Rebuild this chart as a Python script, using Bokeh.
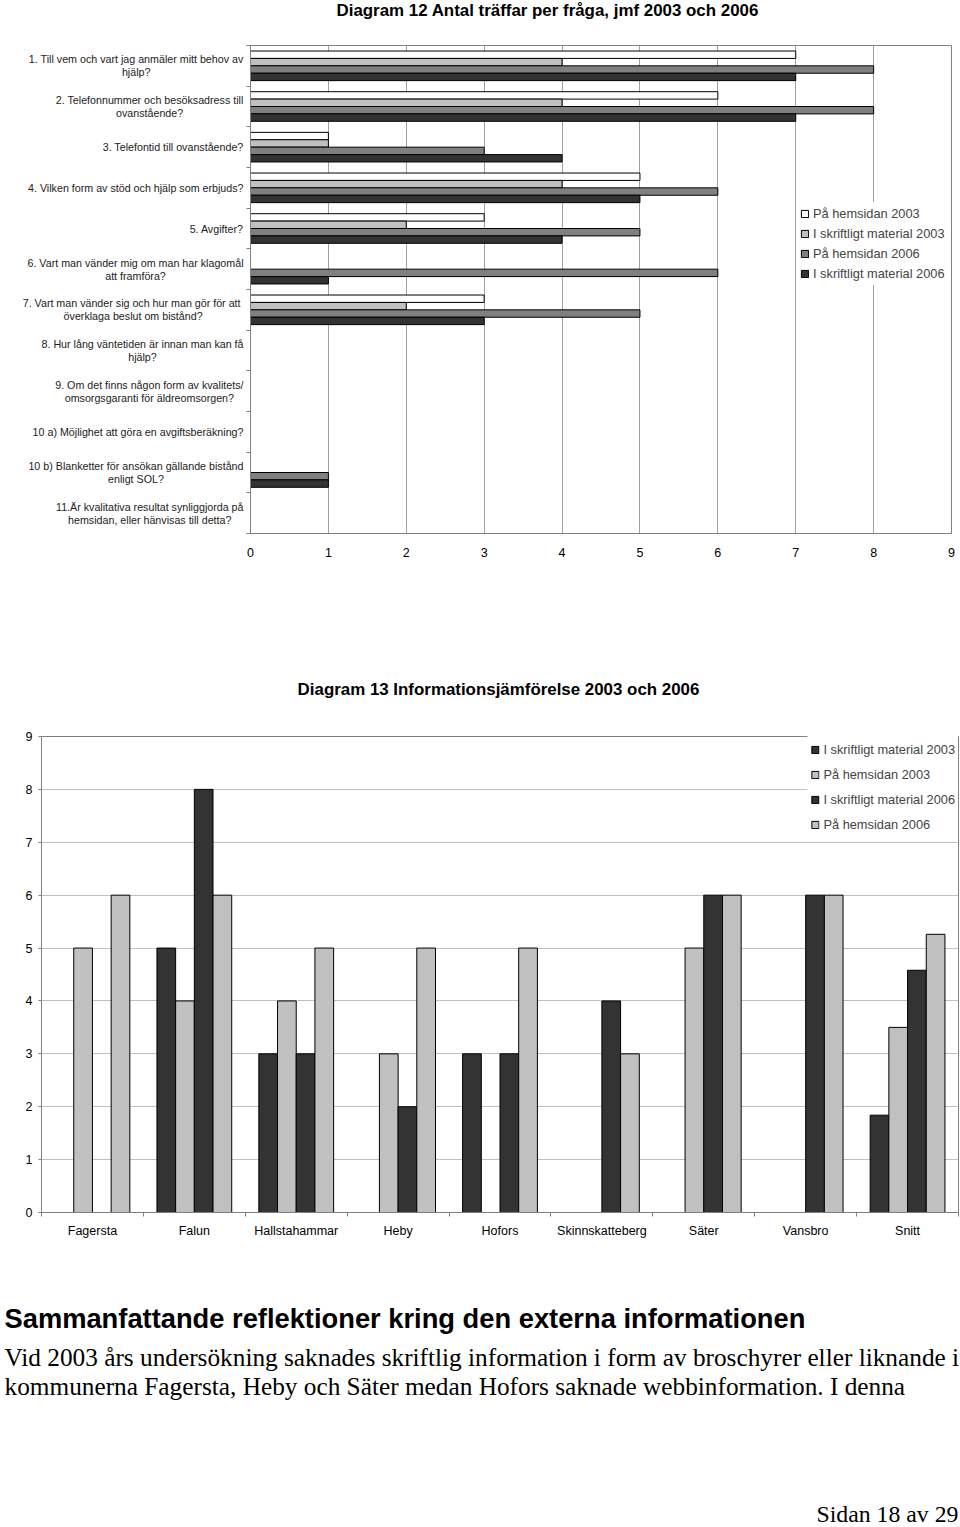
from bokeh.plotting import figure
from bokeh.models import ColumnDataSource, Range1d, FixedTicker, Legend, LegendItem
from bokeh.layouts import row
from bokeh.embed import file_html
from bokeh.resources import INLINE
from bokeh.core.properties import value

SANS = "Liberation Sans"
SERIF = "Liberation Serif"

# ---------------- Diagram 12 data ----------------
title12 = "Diagram 12 Antal träffar per fråga, jmf 2003 och 2006"
questions = [
    "1. Till vem och vart jag anmäler mitt behov av\nhjälp?",
    "2. Telefonnummer och besöksadress till\novanstående?",
    "3. Telefontid till ovanstående?",
    "4. Vilken form av stöd och hjälp som erbjuds?",
    "5. Avgifter?",
    "6. Vart man vänder mig om man har klagomål\natt framföra?",
    "7. Vart man vänder sig och hur man  gör för att\növerklaga beslut om bistånd?",
    "8. Hur lång väntetiden är innan man kan få\nhjälp?",
    "9. Om det finns någon form av kvalitets/\nomsorgsgaranti för äldreomsorgen?",
    "10 a) Möjlighet att göra en avgiftsberäkning?",
    "10 b) Blanketter för ansökan gällande bistånd\nenligt SOL?",
    "11.Är kvalitativa resultat synliggjorda på\nhemsidan, eller hänvisas till detta?",
]
series12 = ["På hemsidan 2003", "I skriftligt material 2003",
            "På hemsidan 2006", "I skriftligt material 2006"]
hem_2003 = [7, 6, 1, 5, 3, 0, 3, 0, 0, 0, 0, 0]
skr_2003 = [4, 4, 1, 4, 2, 0, 2, 0, 0, 0, 0, 0]
hem_2006 = [8, 8, 3, 6, 5, 6, 5, 0, 0, 0, 1, 0]
skr_2006 = [7, 7, 4, 5, 4, 1, 3, 0, 0, 0, 1, 0]
x_ticks12 = [0, 1, 2, 3, 4, 5, 6, 7, 8, 9]
colors12 = ["#ffffff", "#c0c0c0", "#808080", "#333333"]

# ---------------- Diagram 13 data ----------------
title13 = "Diagram 13 Informationsjämförelse 2003 och 2006"
municipalities = ["Fagersta", "Falun", "Hallstahammar", "Heby", "Hofors",
                  "Skinnskatteberg", "Säter", "Vansbro", "Snitt"]
series13 = ["I skriftligt material 2003", "På hemsidan 2003",
            "I skriftligt material 2006", "På hemsidan 2006"]
skr_03 = [0, 5, 3, 0, 3, 0, 0, 0, 1.84]
hem_03 = [5, 4, 4, 3, 0, 0, 5, 0, 3.5]
skr_06 = [0, 8, 3, 2, 3, 4, 6, 6, 4.58]
hem_06 = [6, 6, 5, 5, 5, 3, 6, 6, 5.26]
y_ticks13 = [0, 1, 2, 3, 4, 5, 6, 7, 8, 9]
colors13 = ["#333333", "#c0c0c0", "#333333", "#c0c0c0"]

# ---------------- Text ----------------
heading = "Sammanfattande reflektioner kring den externa informationen"
body_lines = [
    "Vid 2003 års undersökning saknades skriftlig information i form av broschyrer eller liknande i",
    "kommunerna Fagersta, Heby och Säter medan Hofors saknade webbinformation. I denna",
]
footer = "Sidan 18 av 29"

W = 960


def text_fig(width, height):
    f = figure(width=width, height=height, x_range=Range1d(0, width), y_range=Range1d(height, 0),
               output_backend="svg", toolbar_location=None,
               x_axis_type=None, y_axis_type=None,
               min_border_left=0, min_border_right=0, min_border_top=0, min_border_bottom=0)
    f.grid.visible = False
    f.outline_line_color = None
    return f


# ================= Title 12 =================
t1 = text_fig(W, 40)
t1.text(x=[336], y=[10], text=[title12], text_font=value(SANS), text_font_size="16.9px",
        text_font_style="bold", text_baseline="middle", text_align="left", text_color="#000000")

# ================= Figure 1 =================
n1 = len(questions)
LW = 245
H1 = 635
p1 = figure(width=W - LW, height=H1, x_range=Range1d(0, 9), y_range=Range1d(n1, 0),
            output_backend="svg", toolbar_location=None,
            min_border_left=5, min_border_right=9, min_border_top=5, min_border_bottom=142)

h1 = 0.182
vals12 = [hem_2003, skr_2003, hem_2006, skr_2006]
items1 = []
for k, (name, vals, col) in enumerate(zip(series12, vals12, colors12)):
    ys = [i + 0.5 + (k - 1.5) * h1 for i, v in enumerate(vals) if v > 0]
    vs = [v for v in vals if v > 0]
    src = ColumnDataSource(dict(y=ys, v=vs))
    r = p1.hbar(y="y", right="v", left=0, height=h1, source=src,
                fill_color=col, line_color="#000000", line_width=1)
    items1.append(LegendItem(label=name, renderers=[r]))

leg1 = Legend(items=items1, location=(546, 248))
leg1.label_text_font = SANS
leg1.label_text_font_size = "12.8px"
leg1.glyph_width = 9
leg1.glyph_height = 9
leg1.label_standoff = 4
leg1.label_height = 14
leg1.spacing = 5
leg1.padding = 4
leg1.margin = 0
leg1.border_line_alpha = 0
leg1.background_fill_color = "#ffffff"
leg1.background_fill_alpha = 1
p1.add_layout(leg1)

p1.xaxis.ticker = FixedTicker(ticks=x_ticks12)
p1.xaxis.major_label_text_font = SANS
p1.xaxis.major_label_text_font_size = "12.5px"
p1.xaxis.major_label_text_color = "#000000"
p1.xaxis.major_tick_out = 0
p1.xaxis.major_tick_in = 0
p1.xaxis.minor_tick_out = 0
p1.xaxis.axis_line_color = "#808080"
p1.xaxis.major_label_standoff = 14

centers1 = [i + 0.5 for i in range(n1)]
p1.yaxis.ticker = FixedTicker(ticks=centers1, minor_ticks=list(range(n1 + 1)))
p1.yaxis.major_label_overrides = {c: "" for c in centers1}
p1.yaxis.major_tick_out = 0
p1.yaxis.major_tick_in = 0
p1.yaxis.minor_tick_out = 4
p1.yaxis.minor_tick_in = 0
p1.yaxis.minor_tick_line_color = "#808080"
p1.yaxis.axis_line_color = "#808080"
p1.yaxis.major_label_standoff = 0

p1.xgrid.ticker = FixedTicker(ticks=x_ticks12)
p1.xgrid.grid_line_color = "#a0a0a0"
p1.ygrid.grid_line_color = None
p1.outline_line_color = "#808080"

# category labels in a companion panel sharing the same y scale
pl = figure(width=LW, height=H1, x_range=Range1d(0, LW), y_range=p1.y_range,
            output_backend="svg", toolbar_location=None,
            x_axis_type=None, y_axis_type=None,
            min_border_left=0, min_border_right=0, min_border_top=5, min_border_bottom=142)
pl.grid.visible = False
pl.outline_line_color = None
lab_src = ColumnDataSource(dict(x=[LW - 2] * n1, y=centers1, t=questions))
try:
    pl.text(x="x", y="y", text="t", source=lab_src, text_font=value(SANS),
            text_font_size="10.7px", text_color="#222222", text_align="center",
            text_baseline="middle", text_line_height=1.1, anchor="center_right")
except AttributeError:
    pl.renderers = []
    pl.text(x="x", y="y", text="t", source=lab_src, text_font=value(SANS),
            text_font_size="10.7px", text_color="#222222", text_align="right",
            text_baseline="middle", text_line_height=1.1)

# ================= Title 13 =================
t2 = text_fig(W, 45)
t2.text(x=[498], y=[14], text=[title13], text_font=value(SANS), text_font_size="16.9px",
        text_font_style="bold", text_baseline="middle", text_align="center", text_color="#000000")

# ================= Figure 2 =================
n2 = len(municipalities)
p2 = figure(width=W, height=545, x_range=Range1d(0, n2), y_range=Range1d(0, 9),
            output_backend="svg", toolbar_location=None,
            min_border_left=41, min_border_right=2, min_border_top=16, min_border_bottom=53)

w2 = 0.1835
vals13 = [skr_03, hem_03, skr_06, hem_06]
items2 = []
for k, (name, vals, col) in enumerate(zip(series13, vals13, colors13)):
    xs = [i + 0.5 + (k - 1.5) * w2 for i, v in enumerate(vals) if v > 0]
    vs = [v for v in vals if v > 0]
    src = ColumnDataSource(dict(x=xs, v=vs))
    r = p2.vbar(x="x", top="v", bottom=0, width=w2, source=src,
                fill_color=col, line_color="#000000", line_width=1)
    items2.append(LegendItem(label=name, renderers=[r]))

leg2 = Legend(items=items2, location="top_right")
leg2.label_text_font = SANS
leg2.label_text_font_size = "12.8px"
leg2.glyph_width = 9
leg2.glyph_height = 9
leg2.label_standoff = 4
leg2.label_height = 20
leg2.spacing = 5
leg2.padding = 3
leg2.margin = 0
leg2.border_line_alpha = 0
leg2.background_fill_color = "#ffffff"
leg2.background_fill_alpha = 1
p2.add_layout(leg2)

centers2 = [i + 0.5 for i in range(n2)]
p2.xaxis.ticker = FixedTicker(ticks=centers2, minor_ticks=list(range(n2 + 1)))
p2.xaxis.major_label_overrides = {c: m for c, m in zip(centers2, municipalities)}
p2.xaxis.major_label_text_font = SANS
p2.xaxis.major_label_text_font_size = "12.5px"
p2.xaxis.major_label_text_color = "#000000"
p2.xaxis.major_tick_out = 0
p2.xaxis.major_tick_in = 0
p2.xaxis.minor_tick_out = 4
p2.xaxis.minor_tick_in = 0
p2.xaxis.minor_tick_line_color = "#808080"
p2.xaxis.axis_line_color = "#808080"
p2.xaxis.major_label_standoff = 7

p2.yaxis.ticker = FixedTicker(ticks=y_ticks13)
p2.yaxis.major_label_text_font = SANS
p2.yaxis.major_label_text_font_size = "12.5px"
p2.yaxis.major_label_text_color = "#000000"
p2.yaxis.major_tick_out = 3
p2.yaxis.major_tick_in = 0
p2.yaxis.minor_tick_out = 0
p2.yaxis.major_tick_line_color = "#808080"
p2.yaxis.axis_line_color = "#808080"
p2.yaxis.major_label_standoff = 6

p2.ygrid.ticker = FixedTicker(ticks=y_ticks13)
p2.ygrid.grid_line_color = "#c0c0c0"
p2.xgrid.grid_line_color = None
p2.outline_line_color = "#808080"

# ================= Text block =================
p3 = text_fig(W, 262)
p3.text(x=[4], y=[53], text=[heading], text_font=value(SANS), text_font_size="27.3px",
        text_font_style="bold", text_baseline="middle", text_align="left", text_color="#000000")
p3.text(x=[4, 4], y=[91, 120], text=body_lines, text_font=value(SERIF), text_font_size="25.3px",
        text_baseline="middle", text_align="left", text_color="#000000")
p3.text(x=[958], y=[248], text=[footer], text_font=value(SERIF), text_font_size="23.8px",
        text_baseline="middle", text_align="right", text_color="#000000")

open("out.html", "w").write(file_html([t1, row(pl, p1), t2, p2, p3], INLINE))
